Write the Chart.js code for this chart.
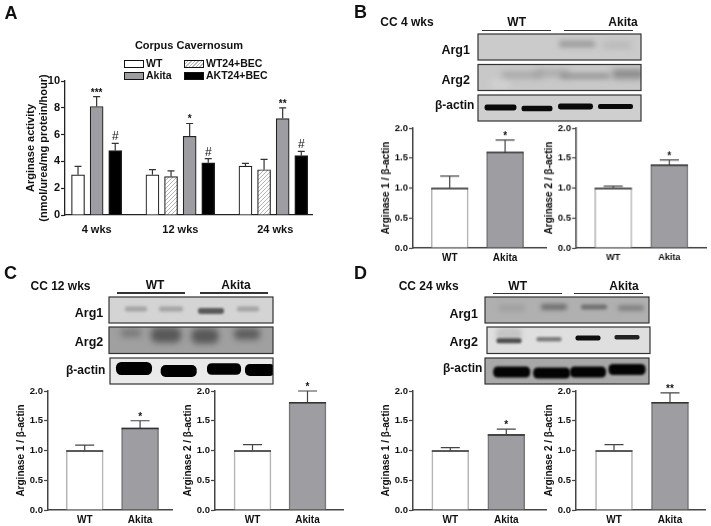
<!DOCTYPE html>
<html>
<head>
<meta charset="utf-8">
<script src="https://cdn.jsdelivr.net/npm/chart.js@4/dist/chart.umd.min.js"></script>
<style>
  html, body { margin: 0; padding: 0; background: #fff; }
  #page { position: relative; width: 711px; height: 526px; overflow: hidden; font-family: "Liberation Sans", Arial, sans-serif; font-weight: bold; color: #111; }
  #page canvas { position: absolute; }
  .lbl { position: absolute; white-space: nowrap; transform: translate(-50%, -50%); line-height: 1; }
  .left { transform: translate(0, -50%); }
  .rule { position: absolute; height: 1.5px; background: #333; }
  .swatch { position: absolute; width: 18px; height: 6px; border: 1px solid #111; box-sizing: content-box; }
</style>
</head>
<body>
<div id="page"><canvas id="blots" width="711" height="526" style="left:0;top:0"></canvas></div>
<script>
// panel A: arginase activity
const groupLabels = ['4 wks', '12 wks', '24 wks'];
const wtValues = [3.0, 3.0, 3.65];
const wtTops = [3.63, 3.38, 3.85];
const becValues = [2.87, 3.38];
const becTops = [3.3, 4.15];
const akitaValues = [8.1, 5.87, 7.2];
const akitaTops = [8.83, 6.83, 8.0];
const aktValues = [4.8, 3.9, 4.43];
const aktTops = [5.35, 4.2, 4.75];
const akitaMarks = ['***', '*', '**'];
const aktMarks = ['#', '#', '#'];

// panels B, C, D: densitometry, WT then Akita
const pairLabels = ['WT', 'Akita'];
const ratioTicks = [0, 0.5, 1.0, 1.5, 2.0];
const b1Values = [1.0, 1.6], b1Tops = [1.2, 1.8];
const b2Values = [1.0, 1.39], b2Tops = [1.03, 1.47];
const c1Values = [1.0, 1.38], c1Tops = [1.09, 1.5];
const c2Values = [1.0, 1.81], c2Tops = [1.1, 2.0];
const d1Values = [1.0, 1.27], d1Tops = [1.05, 1.36];
const d2Values = [1.0, 1.81], d2Tops = [1.1, 1.97];

const FONT = '"Liberation Sans", Arial, sans-serif';
const page = document.getElementById('page');
const GRIS = '#9e9ea2';

// barras de erro e asteriscos, sempre pelas escalas do grafico
const errorPlugin = {
    id: 'errorBars',
    afterDatasetsDraw(chart) {
        const ctx = chart.ctx;
        const yScale = chart.scales.y;
        chart.data.datasets.forEach((ds, i) => {
            chart.getDatasetMeta(i).data.forEach((bar, j) => {
                const yTop = yScale.getPixelForValue(ds.tops[j]);
                ctx.save();
                ctx.strokeStyle = ds.whisker;
                ctx.lineWidth = 1.2;
                ctx.beginPath();
                ctx.moveTo(bar.x, bar.y);
                ctx.lineTo(bar.x, yTop);
                ctx.moveTo(bar.x - ds.capW / 2, yTop);
                ctx.lineTo(bar.x + ds.capW / 2, yTop);
                ctx.stroke();
                if (ds.topLine) {
                    ctx.strokeStyle = ds.topLine;
                    ctx.lineWidth = 1.5;
                    ctx.beginPath();
                    ctx.moveTo(bar.x - ds.barThickness / 2, bar.y + 0.5);
                    ctx.lineTo(bar.x + ds.barThickness / 2, bar.y + 0.5);
                    ctx.stroke();
                }
                if (ds.marks && ds.marks[j]) {
                    const hash = ds.marks[j] === '#';
                    ctx.fillStyle = '#111';
                    ctx.textAlign = 'center';
                    ctx.textBaseline = 'alphabetic';
                    ctx.font = (hash ? 'normal 12px ' : 'bold 10px ') + FONT;
                    ctx.fillText(ds.marks[j], bar.x, yTop + (hash ? -3 : -1));
                }
                ctx.restore();
            });
        });
    }
};

function criarPainel(id, cfg) {
    const canvas = document.createElement('canvas');
    canvas.id = id;
    const left = cfg.plotLeft - cfg.yWidth;
    const top = cfg.plotTop - 14;
    const width = cfg.plotRight - left;
    const height = cfg.plotBottom - top + cfg.xHeight;
    canvas.width = width;
    canvas.height = height;
    canvas.style.left = left + 'px';
    canvas.style.top = top + 'px';
    canvas.style.width = width + 'px';
    canvas.style.height = height + 'px';
    page.appendChild(canvas);

    return new Chart(canvas, {
        type: 'bar',
        data: { datasets: cfg.datasets },
        plugins: [errorPlugin],
        options: {
            responsive: false,
            animation: false,
            layout: { padding: { top: 14, left: 0, right: 0, bottom: 0 } },
            plugins: { legend: { display: false }, title: { display: false }, tooltip: { enabled: false } },
            scales: {
                x: {
                    type: 'linear',
                    offset: false,
                    min: cfg.xMin,
                    max: cfg.xMax,
                    grid: { display: false, drawTicks: false },
                    border: { color: cfg.axisColor, width: cfg.axisWidth },
                    afterBuildTicks: axis => { axis.ticks = cfg.xTicks.map(v => ({ value: v })); },
                    afterFit: axis => { axis.height = cfg.xHeight; },
                    ticks: {
                        autoSkip: false,
                        maxRotation: 0,
                        padding: cfg.xPad,
                        color: '#111',
                        font: { family: FONT, weight: 'bold', size: cfg.xSize },
                        callback: (v, i) => cfg.xLabels[i]
                    }
                },
                y: {
                    min: cfg.yMin,
                    max: cfg.yMax,
                    grid: { drawOnChartArea: false, tickLength: 4, tickColor: cfg.axisColor, tickWidth: 1.2 },
                    border: { color: cfg.axisColor, width: cfg.axisWidth },
                    afterBuildTicks: axis => { axis.ticks = cfg.yTicks.map(v => ({ value: v })); },
                    afterFit: axis => { axis.width = cfg.yWidth; },
                    title: {
                        display: true,
                        text: cfg.yTitle,
                        color: '#111',
                        padding: { top: cfg.titlePad, bottom: 0 },
                        font: { family: FONT, weight: 'bold', size: cfg.titleSize, lineHeight: 1.15 }
                    },
                    ticks: {
                        padding: 1,
                        color: '#111',
                        font: { family: FONT, weight: 'bold', size: cfg.ySize },
                        callback: v => cfg.yDigits ? v.toFixed(cfg.yDigits) : String(v)
                    }
                }
            }
        }
    });
}

// hachura do WT24+BEC
function hachura() {
    const c = document.createElement('canvas');
    c.width = 4; c.height = 4;
    const g = c.getContext('2d');
    g.fillStyle = '#fff';
    g.fillRect(0, 0, 4, 4);
    g.strokeStyle = '#b4b4b4';
    g.lineWidth = 1;
    g.beginPath();
    g.moveTo(-1, 5); g.lineTo(5, -1);
    g.moveTo(-1, 1); g.lineTo(1, -1);
    g.moveTo(3, 5); g.lineTo(5, 3);
    g.stroke();
    return g.createPattern(c, 'repeat');
}

function serieA(slots, values, tops, fill, marks) {
    return {
        data: values.map((v, i) => ({ x: slots[i], y: v })),
        tops: tops,
        marks: marks,
        grouped: false,
        capW: 7,
        whisker: '#333',
        barThickness: 13,
        backgroundColor: fill,
        borderColor: '#222',
        borderWidth: 1.2,
        borderSkipped: 'bottom'
    };
}

// posicoes na ordem do eixo, com os buracos entre os grupos
const slotsTres = [0, 4, 9];
const slotsAkita = [1, 6, 11];
const slotsAkt = [2, 7, 12];
const slotsBec = [5, 10];

criarPainel('painelA', {
    plotLeft: 65, plotRight: 313, plotTop: 81, plotBottom: 215,
    yWidth: 42, xHeight: 24, xPad: 8, xSize: 11,
    xMin: -0.7, xMax: 12.63, xTicks: [1, 5.5, 10.6], xLabels: groupLabels,
    yMin: 0, yMax: 10, yTicks: [0, 2, 4, 6, 8, 10], yDigits: 0, ySize: 11,
    yTitle: ['Arginase activity', '(nmol/urea/mg protein/hour)'], titleSize: 11, titlePad: 2,
    axisColor: '#222', axisWidth: 1.3,
    datasets: [
        serieA(slotsTres, wtValues, wtTops, '#ffffff'),
        serieA(slotsBec, becValues, becTops, hachura()),
        serieA(slotsAkita, akitaValues, akitaTops, GRIS, akitaMarks),
        serieA(slotsAkt, aktValues, aktTops, '#000000', aktMarks)
    ]
});

function seriesPar(values, tops, star) {
    const base = { barThickness: 37, grouped: false, capW: 19, whisker: '#444', borderWidth: 1.6, borderSkipped: 'bottom', topLine: '#333' };
    return [
        Object.assign({}, base, { data: [{ x: 0, y: values[0] }], tops: [tops[0]], backgroundColor: '#fff', borderColor: '#b5b5b5' }),
        Object.assign({}, base, { data: [{ x: 1, y: values[1] }], tops: [tops[1]], marks: [star], backgroundColor: GRIS, borderColor: '#77777a' })
    ];
}

function painelPar(id, plotLeft, plotRight, plotTop, plotBottom, c0, c1, values, tops, star, yTitle, xSize) {
    const pitch = c1 - c0;
    criarPainel(id, {
        plotLeft, plotRight, plotTop, plotBottom,
        yWidth: 34, xHeight: 15, xPad: 4, xSize: xSize || 10,
        xMin: -(c0 - plotLeft) / pitch, xMax: 1 + (plotRight - c1) / pitch,
        xTicks: [0, 1], xLabels: pairLabels,
        yMin: 0, yMax: 2, yTicks: ratioTicks, yDigits: 1, ySize: 9.5,
        yTitle, titleSize: 10, titlePad: 1,
        axisColor: '#444', axisWidth: 1.5,
        datasets: seriesPar(values, tops, star)
    });
}

const titulo1 = 'Arginase 1 / \u03b2-actin';
const titulo2 = 'Arginase 2 / \u03b2-actin';
painelPar('painelB1', 412.7, 547, 128.3, 247.7, 449.5, 505, b1Values, b1Tops, '*', titulo1);
painelPar('painelB2', 576, 706.7, 128.3, 247.7, 613, 669, b2Values, b2Tops, '*', titulo2, 9);
painelPar('painelC1', 47.7, 173, 391, 510.3, 84.5, 140, c1Values, c1Tops, '*', titulo1);
painelPar('painelC2', 215, 344, 391, 510.3, 252.5, 307.5, c2Values, c2Tops, '*', titulo2);
painelPar('painelD1', 412.7, 546.7, 390.5, 510.3, 450, 506, d1Values, d1Tops, '*', titulo1);
painelPar('painelD2', 576, 706, 390.5, 510.3, 614, 670, d2Values, d2Tops, '**', titulo2);

// textos soltos da figura
function texto(t, x, y, size, esquerda) {
    const el = document.createElement('div');
    el.className = esquerda ? 'lbl left' : 'lbl';
    el.textContent = t;
    el.style.left = x + 'px';
    el.style.top = y + 'px';
    el.style.fontSize = size + 'px';
    page.appendChild(el);
}

function regua(x0, x1, y) {
    const el = document.createElement('div');
    el.className = 'rule';
    el.style.left = x0 + 'px';
    el.style.top = y + 'px';
    el.style.width = (x1 - x0) + 'px';
    page.appendChild(el);
}

function amostra(x, y, fundo) {
    const el = document.createElement('div');
    el.className = 'swatch';
    el.style.left = x + 'px';
    el.style.top = y + 'px';
    el.style.background = fundo;
    page.appendChild(el);
}

texto('A', 11, 13, 18);
texto('B', 360.5, 12, 18);
texto('C', 10.5, 273, 18);
texto('D', 360.5, 273, 18);

texto('Corpus Cavernosum', 189, 45, 11);
amostra(124, 60, '#fff');
amostra(124, 72, GRIS);
amostra(184, 60, 'repeating-linear-gradient(135deg,#fff 0 1.5px,#bbb 1.5px 2.5px)');
amostra(184, 72, '#000');
texto('WT', 146, 63, 10.5, true);
texto('Akita', 146, 75, 10.5, true);
texto('WT24+BEC', 206, 63, 10.5, true);
texto('AKT24+BEC', 206, 75, 10.5, true);

texto('CC 4 wks', 407, 22, 12);
texto('WT', 516.7, 22, 12);
texto('Akita', 623, 22, 12);
regua(482.3, 551, 29.5);
regua(564, 632.7, 29.5);
texto('Arg1', 455.7, 50, 12.5);
texto('Arg2', 455.7, 80, 12.5);
texto('\u03b2-actin', 454.7, 105, 12);

texto('CC 12 wks', 60.5, 286, 12);
texto('WT', 155, 285, 12);
texto('Akita', 236, 285, 12);
regua(116.7, 185, 292);
regua(200, 268, 292);
texto('Arg1', 89, 313, 12.5);
texto('Arg2', 89, 342, 12.5);
texto('\u03b2-actin', 85.7, 370, 12);

texto('CC 24 wks', 428.7, 286, 12);
texto('WT', 517.7, 286, 12);
texto('Akita', 624, 286, 12);
regua(493.3, 562, 292.5);
regua(574.3, 642.7, 292.5);
texto('Arg1', 463.7, 313.5, 12.5);
texto('Arg2', 463.7, 342, 12.5);
texto('\u03b2-actin', 462.7, 368, 12);

// fotos dos western blots: retangulo de fundo e bandas borradas
function blot(x, y, w, h, fundo, bandas) {
    const ctx = document.getElementById('blots').getContext('2d');
    ctx.save();
    ctx.beginPath();
    ctx.rect(x, y, w, h);
    ctx.clip();
    ctx.fillStyle = fundo;
    ctx.fillRect(x, y, w, h);
    bandas.forEach(b => {
        ctx.filter = `blur(${b[5]}px)`;
        ctx.fillStyle = b[4];
        ctx.beginPath();
        ctx.roundRect(b[0] - b[2] / 2, b[1] - b[3] / 2, b[2], b[3], b[3] * 0.4);
        ctx.fill();
    });
    ctx.restore();
    ctx.strokeStyle = '#333';
    ctx.lineWidth = 1.2;
    ctx.strokeRect(x, y, w, h);
}

// painel B
blot(478, 34, 163, 26, '#cbcbcb', [
    [577, 44, 36, 7, 'rgba(140,140,140,.7)', 2.5],
    [617, 45, 30, 8, 'rgba(175,175,175,.6)', 3]
]);
blot(478, 64.5, 163, 26, '#c8c8c8', [
    [500, 84, 20, 8, 'rgba(215,215,215,.7)', 3],
    [522, 75, 40, 6, 'rgba(140,140,140,.6)', 3],
    [552, 73, 34, 7, 'rgba(140,140,140,.5)', 3],
    [585, 76, 50, 6, 'rgba(135,135,135,.7)', 2.5],
    [628, 74, 32, 9, 'rgba(110,110,110,.7)', 3]
]);
blot(478, 95, 163, 26, '#cfcfcf', [
    [500.5, 107.5, 32, 6, '#0a0a0a', 0.6],
    [537, 108.5, 31, 5.5, '#0a0a0a', 0.6],
    [575.5, 106.5, 35, 6, '#0a0a0a', 0.6],
    [615.5, 106.5, 35, 5, '#0a0a0a', 0.6]
]);

// painel C
blot(109, 297, 164, 26, '#d4d4d4', [
    [136, 309, 22, 5, 'rgba(150,150,150,.8)', 1.5],
    [171, 309, 24, 5, 'rgba(150,150,150,.8)', 1.5],
    [211, 311, 26, 6, 'rgba(75,75,75,.9)', 1.2],
    [248, 309, 22, 5, 'rgba(150,150,150,.8)', 1.5]
]);
blot(109, 327, 164, 26.5, '#a0a0a0', [
    [131, 333, 20, 8, 'rgba(110,110,110,.8)', 3],
    [166, 335, 30, 15, 'rgba(75,75,75,.85)', 3],
    [205, 336, 27, 15, 'rgba(75,75,75,.85)', 3],
    [247, 334, 26, 11, 'rgba(80,80,80,.85)', 3]
]);
blot(110, 358, 163, 26, '#eaeaea', [
    [134, 368.5, 36, 13, '#000', 0.7],
    [178.7, 371, 36, 12, '#000', 0.7],
    [224, 369, 34, 11.5, '#000', 0.7],
    [260, 370, 30, 12, '#000', 0.7]
]);

// painel D
blot(485, 297, 164, 26, '#b0b0b0', [
    [512, 308, 26, 7, 'rgba(150,150,150,.6)', 2.5],
    [554, 307, 26, 6, 'rgba(95,95,95,.8)', 2],
    [594, 307, 26, 5, 'rgba(95,95,95,.8)', 1.8],
    [631, 308, 26, 5, 'rgba(110,110,110,.8)', 2]
]);
blot(487, 327, 163, 26.5, '#dfdfdf', [
    [509, 334, 26, 12, 'rgba(190,190,190,.8)', 2],
    [509, 340.7, 25, 5, 'rgba(70,70,70,.95)', 0.9],
    [549, 339.3, 25, 4.5, 'rgba(115,115,115,.9)', 0.9],
    [588, 338, 25, 5, '#0e0e0e', 0.6],
    [627, 337.3, 25, 4.5, '#222', 0.6]
]);
blot(485, 358, 164, 26, '#a8a8a8', [
    [511.7, 372, 37, 11, '#040404', 0.8],
    [551.7, 373, 37, 11, '#040404', 0.8],
    [588, 372, 36, 11, '#040404', 0.8],
    [627, 369.5, 37, 11, '#040404', 0.8]
]);
</script>
</body>
</html>
